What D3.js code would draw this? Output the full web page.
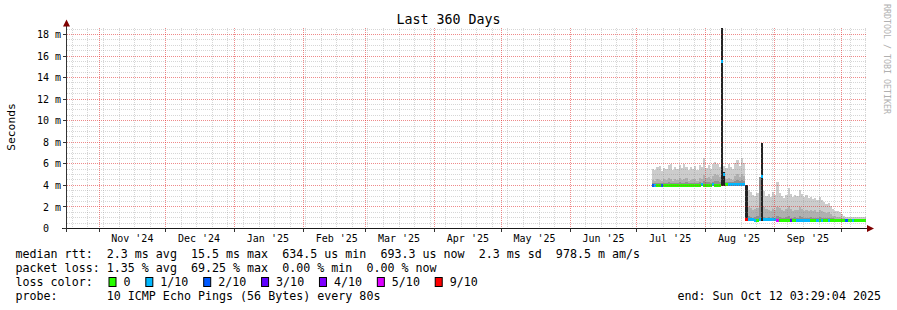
<!DOCTYPE html>
<html><head><meta charset="utf-8">
<script src="https://cdn.jsdelivr.net/npm/d3@7/dist/d3.min.js"></script>
<style>
body{margin:0;background:#fff;}
svg{display:block;}
text{font-family:"DejaVu Sans Mono",monospace;fill:#000;}
</style></head><body>
<svg id="c" width="897" height="310"></svg>
<script>
// ---------- data ----------
const title = "Last 360 Days";
const yAxisTitle = "Seconds";
const watermark = "RRDTOOL / TOBI OETIKER";
const endTime = "2025-10-12T03:29:04Z";
const spanDays = 360;
const dataStart = "2025-07-07T20:00:00Z";
const stepHours = 24;

// median rtt per bin (ms)
const median = [
 3.95,3.95,4.0,4.0,3.98,4.0,4.02,4.0,4.0,4.02,4.0,4.0,4.02,4.0,4.0,4.02,4.0,4.0,4.0,4.02,4.0,4.0,4.05,4.02,4.02,4.0,4.02,4.05,4.02,4.02,4.02,15.5,5.0,4.05,4.1,4.1,4.1,4.1,4.08,4.1,4.1,4.1,
 0.8,0.8,0.8,0.8,0.78,0.78,0.8,4.8,0.8,0.8,0.82,0.8,0.8,0.8,0.78,0.72,0.72,0.7,0.72,0.72,0.72,0.7,0.72,0.76,0.78,0.78,0.76,0.78,0.78,0.72,0.72,0.72,0.76,0.72,0.76,0.72,0.72,0.76,0.72,0.72,0.72,0.72,0.72,0.72,0.72,0.74,0.72,0.72,0.74,0.72,0.72,0.72,0.72,0.72,0.72];
// packet loss count (of 10) per bin
const loss = [
 2,1,0,0,2,0,0,0,0,0,0,0,0,0,0,0,0,0,0,0,0,0,1,0,0,0,0,1,0,0,0,1,1,0,1,1,1,1,1,1,1,1,
 9,1,1,1,1,0,1,1,1,1,1,1,1,1,5,0,0,0,0,0,3,0,0,1,1,1,1,1,1,0,0,0,1,0,1,0,0,1,0,0,0,0,0,0,0,2,0,0,1,0,0,0,0,0,0];
// smoke: lowest ping, and tops of the light / mid / dark / core layers (ms)
const smokeMin = [
 3.88,3.88,3.9,3.9,3.9,3.9,3.92,3.9,3.9,3.92,3.9,3.9,3.92,3.9,3.9,3.92,3.9,3.9,3.9,3.92,3.9,3.9,3.95,3.92,3.92,3.9,3.92,3.95,3.92,3.92,3.92,3.92,3.92,3.95,4.0,4.0,4.0,4.0,3.98,4.0,4.0,4.0,
 0.7,0.7,0.7,0.7,0.68,0.68,0.7,0.7,0.7,0.7,0.72,0.7,0.7,0.7,0.68,0.62,0.62,0.6,0.62,0.62,0.62,0.6,0.62,0.66,0.68,0.68,0.66,0.68,0.68,0.62,0.62,0.62,0.66,0.62,0.66,0.62,0.62,0.66,0.62,0.62,0.62,0.62,0.62,0.62,0.62,0.64,0.62,0.62,0.64,0.62,0.62,0.62,0.62,0.62,0.62];
const smokeLight = [
 5.5,5.4,5.7,5.8,5.3,5.6,5.5,5.9,6.0,5.4,5.7,5.5,5.9,5.6,6.0,5.7,5.4,5.7,5.5,5.8,5.4,5.9,5.7,6.5,5.6,5.9,5.5,6.0,6.2,6.0,5.7,19,5.8,5.6,6.0,5.7,5.5,6.1,6.4,5.8,6.5,6.1,
 4.0,3.6,3.4,3.1,3.0,3.3,2.9,7.9,3.5,3.0,3.2,2.9,3.4,3.1,4.3,3.3,3.0,2.8,3.1,3.8,3.2,2.9,3.1,3.0,3.6,3.2,2.9,3.1,2.8,2.9,2.7,2.8,2.6,2.9,2.6,2.5,2.3,2.4,2.1,1.8,1.6,1.6,1.5,1.3,1.2,1.1,1.1,1.1,1.05,1.1,1.05,1.05,1.1,1.05,1.05];
const smokeMid = [
 4.5,4.4,4.6,4.5,4.4,4.6,4.5,4.7,4.6,4.4,4.6,4.5,4.7,4.5,4.6,4.7,4.4,4.5,4.6,4.6,4.4,4.7,4.6,5.0,4.7,4.8,4.6,4.9,5.1,5.0,4.8,15.5,5.1,4.6,4.7,4.6,4.5,4.9,5.1,4.8,5.1,4.9,
 4.0,2.0,1.9,1.7,1.8,1.9,1.8,7.9,2.0,1.8,1.7,1.6,1.8,1.7,2.0,1.9,1.7,1.6,1.8,2.1,1.8,1.6,1.7,1.7,2.0,1.8,1.6,1.7,1.6,1.7,1.6,1.7,1.5,1.7,1.6,1.5,1.4,1.5,1.3,1.2,1.2,1.1,1.1,1.0,0.95,0.9,0.9,0.9,0.9,0.9,0.9,0.9,0.9,0.9,0.9];
const smokeDark = [
 4.2,4.2,4.25,4.2,4.2,4.25,4.2,4.3,4.25,4.2,4.25,4.2,4.3,4.2,4.25,4.3,4.2,4.2,4.25,4.25,4.2,4.3,4.25,4.4,4.3,4.35,4.25,4.35,4.45,4.4,4.35,15.5,5.0,4.3,4.35,4.3,4.3,4.4,4.5,4.4,4.5,4.4,
 4.0,1.2,1.1,1.0,1.1,1.2,4.8,7.9,1.1,1.0,1.1,1.0,1.1,1.0,1.2,1.1,1.0,1.0,1.1,1.2,1.0,1.0,1.1,1.0,1.2,1.1,1.0,1.0,1.0,1.1,1.0,1.0,1.0,1.1,1.0,1.0,1.0,1.0,0.95,0.95,0.9,0.9,0.9,0.85,0.85,0.82,0.82,0.82,0.82,0.82,0.82,0.82,0.82,0.82,0.82];
const smokeCore = [
 0,0,0,0,0,0,0,0,0,0,0,0,0,0,0,0,0,0,0,0,0,0,0,0,0,0,0,0,0,0,0,19,5.2,0,0,0,0,0,0,0,0,0,
 4.0,0,0,0,0,0,0,7.9,0,0,0,0,0,0,0,0,0,0,0,0,0,0,0,0,0,0,0,0,0,0,0,0,0,0,0,0,0,0,0,0,0,0,0,0,0,0,0,0,0,0,0,0,0,0,0];

const yTicks = [0,2,4,6,8,10,12,14,16,18];
const yTickLabels = ["0  ","2 m","4 m","6 m","8 m","10 m","12 m","14 m","16 m","18 m"];
const yMinorStep = 0.5;
const monthTicks = ["2024-11-01","2024-12-01","2025-01-01","2025-02-01","2025-03-01","2025-04-01","2025-05-01","2025-06-01","2025-07-01","2025-08-01","2025-09-01","2025-10-01"];
const monthLabels = ["Nov '24","Dec '24","Jan '25","Feb '25","Mar '25","Apr '25","May '25","Jun '25","Jul '25","Aug '25","Sep '25",""];

const lossCounts = [0,1,2,3,4,5,9];
const lossLabels = ["0","1/10","2/10","3/10","4/10","5/10","9/10"];
const lossColors = ["#26ff00","#00b8ff","#0059ff","#5e00ff","#7e00ff","#dd00ff","#ff0000"];

const legendRtt = "median rtt:  2.3 ms avg  15.5 ms max  634.5 us min  693.3 us now  2.3 ms sd  978.5 m am/s";
const legendLoss = "packet loss: 1.35 % avg  69.25 % max  0.00 % min  0.00 % now";
const legendColorLabel = "loss color:";
const legendProbe = "probe:       10 ICMP Echo Pings (56 Bytes) every 80s";
const legendEnd = "end: Sun Oct 12 03:29:04 2025";

// ---------- drawing ----------
const svg = d3.select("#c");
const P = {l:66, r:866, t:28.5, b:228.5};
const yMax = 18.556;
const tEnd = new Date(endTime);
const tStart = new Date(+tEnd - spanDays*864e5);
const x = d3.scaleUtc().domain([tStart, tEnd]).range([P.l, P.r]);
const y = d3.scaleLinear().domain([0, yMax]).range([P.b, P.t]);
const snap = v => Math.round(v - 0.5) + 0.5;

svg.append("rect").attr("width",897).attr("height",310).attr("fill","#fff");
svg.append("defs").append("clipPath").attr("id","clip")
  .append("rect").attr("x",P.l).attr("y",28).attr("width",P.r-P.l).attr("height",201);

const t0 = new Date(dataStart);
const step = stepHours*3600e3;
const bins = median.map((m,i)=>({
  a:new Date(+t0 + i*step), b:new Date(+t0 + (i+1)*step), i
}));
const bx = d => Math.round(x(d.a));
const bw = d => Math.max(1, Math.round(x(d.b)) - Math.round(x(d.a)));

const data = svg.append("g").attr("clip-path","url(#clip)").attr("shape-rendering","crispEdges");
function layer(arr, color){
  data.append("g").selectAll("rect").data(bins.filter(d=>arr[d.i]>0)).join("rect")
    .attr("x",bx).attr("width",bw)
    .attr("y",d=>Math.round(y(arr[d.i])))
    .attr("height",d=>Math.max(1, Math.round(y(smokeMin[d.i])) - Math.round(y(arr[d.i]))))
    .attr("fill",color);
}
layer(smokeLight,"#cccccc");
layer(smokeMid,"#b0b0b0");
layer(smokeDark,"#909090");
layer(smokeCore,"#222222");

// median bands coloured by loss
data.append("g").selectAll("rect").data(bins).join("rect")
  .attr("x",bx).attr("width",bw)
  .attr("y",d=>Math.round(y(median[d.i]) - 1.5)).attr("height",3)
  .attr("fill",d=>lossColors[lossCounts.indexOf(loss[d.i])]);

// grid (semi-transparent, on top of the data like rrdtool)
const minorC = "rgba(140,140,140,0.36)", majorC = "rgba(225,30,30,0.52)";
const grid = svg.append("g").attr("fill","none");
const minorY = d3.range(yMinorStep, yMax, yMinorStep).filter(v=>!yTicks.includes(v));
const months = monthTicks.map(s=>new Date(s+"T00:00:00Z"));
const weeks = d3.utcSunday.range(tStart, tEnd).filter(w=>!months.some(m=>+m===+w));
function hline(g, v, c){
  g.append("line").attr("x1",P.l+1).attr("x2",P.r).attr("y1",snap(y(v))).attr("y2",snap(y(v)))
   .attr("stroke",c).attr("stroke-width",1).attr("stroke-dasharray","1 1");
}
function vline(g, d, c){
  g.append("line").attr("x1",snap(x(d))).attr("x2",snap(x(d))).attr("y1",28).attr("y2",228)
   .attr("stroke",c).attr("stroke-width",1).attr("stroke-dasharray","1 1");
}
minorY.forEach(v=>hline(grid, v, minorC));
weeks.forEach(d=>vline(grid, d, minorC));
yTicks.filter(v=>v>0).forEach(v=>hline(grid, v, majorC));
months.filter(m=>m>tStart && m<tEnd).forEach(d=>vline(grid, d, majorC));

// axes
const ax = svg.append("g").attr("shape-rendering","crispEdges");
ax.append("line").attr("x1",62).attr("x2",868).attr("y1",P.b).attr("y2",P.b).attr("stroke","#1a1a1a");
ax.append("line").attr("x1",66.5).attr("x2",66.5).attr("y1",232).attr("y2",25).attr("stroke","#333");
ax.selectAll(".yt").data(yTicks).join("line")
  .attr("x1",63).attr("x2",66).attr("y1",d=>snap(y(d))).attr("y2",d=>snap(y(d))).attr("stroke","#333");
ax.selectAll(".xt").data(months.filter(m=>m>tStart && m<tEnd)).join("line")
  .attr("x1",d=>snap(x(d))).attr("x2",d=>snap(x(d))).attr("y1",229).attr("y2",232).attr("stroke","#333");
svg.append("polygon").attr("points","63,26.5 70,26.5 66.5,19.5").attr("fill","#7f0000");
svg.append("polygon").attr("points","867,225 867,232 874,228.5").attr("fill","#7f0000");

// y labels
svg.append("g").selectAll("text").data(yTicks).join("text")
  .attr("xml:space","preserve")
  .attr("x",61).attr("y",d=>y(d)).attr("dy","0.36em").attr("text-anchor","end")
  .attr("font-size","10px").text((d,i)=>yTickLabels[i]);
// x labels (centred mid-month)
svg.append("g").selectAll("text").data(months.slice(0,-1)).join("text")
  .attr("xml:space","preserve")
  .attr("x",(d,i)=>x(new Date(+d + 15*864e5))).attr("y",242).attr("text-anchor","middle")
  .attr("font-size","10px").text((d,i)=>monthLabels[i]);

// titles
svg.append("text").attr("x",448.5).attr("y",24).attr("text-anchor","middle").attr("font-size","13.3px").text(title);
svg.append("text").attr("transform","translate(15,127) rotate(-90)").attr("text-anchor","middle").attr("font-size","11.3px").text(yAxisTitle);
svg.append("text").attr("transform","translate(884,4) rotate(90)").attr("font-size","8.3px").style("fill","#b0b0b0").text(watermark);

// legend
const LF = "11.67px";
function lt(xp, yp, s, anchor){
  return svg.append("text").attr("xml:space","preserve").attr("x",xp).attr("y",yp)
    .attr("font-size",LF).attr("text-anchor",anchor||"start").text(s);
}
lt(15.5,258,legendRtt);
lt(15.5,272,legendLoss);
lt(15.5,286,legendColorLabel);
lt(15.5,300,legendProbe);
lt(881,300,legendEnd,"end");
let cx = 108.5;
const lg = svg.append("g");
lossLabels.forEach((lab,i)=>{
  lg.append("rect").attr("x",cx+0.5).attr("y",277.5).attr("width",7).attr("height",9)
    .attr("fill",lossColors[i]).attr("stroke","#000").attr("stroke-width",1);
  lg.append("text").attr("x",cx+15).attr("y",286).attr("font-size",LF).text(lab);
  cx = cx + 15 + lab.length*7.02 + 14.8;
});
</script>
</body></html>
